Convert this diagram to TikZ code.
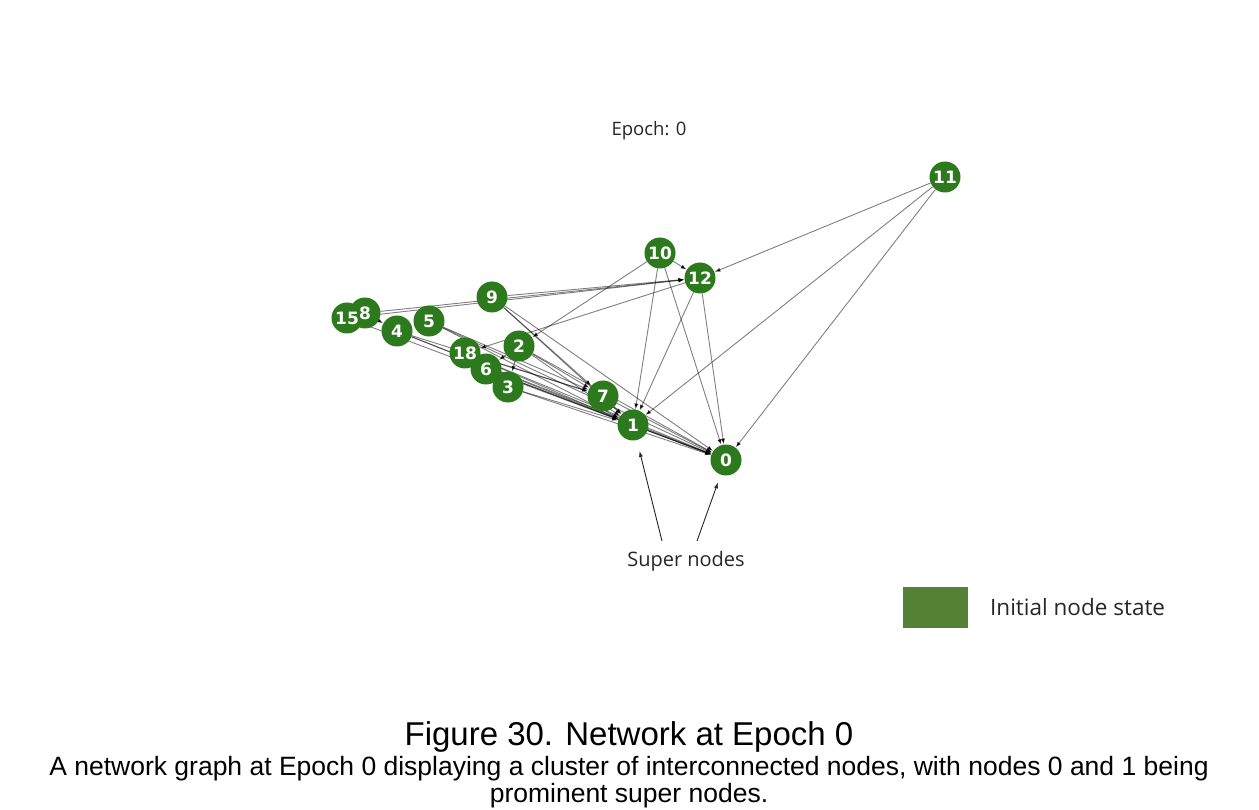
\documentclass[tikz,border=0pt]{standalone}
\usepackage{fontspec}
\setmainfont{Liberation Sans}
\newfontfamily\labelfont{Open Sans}
\newfontfamily\numfont{DejaVu Sans}
\usetikzlibrary{arrows.meta,backgrounds}
\definecolor{nodegreen}{RGB}{45,122,30}
\definecolor{legendgreen}{RGB}{84,130,53}
\tikzset{
  gnode/.style={circle,fill=nodegreen,minimum size=31pt,inner sep=0pt},
  glabel/.style={text=white,font=\numfont\bfseries\fontsize{17}{17}\selectfont,inner sep=0pt},
  gedge/.style={draw=black,line width=0.9pt,draw opacity=0.5,
    -{Latex[length=6pt,width=4.5pt]}},
  callout/.style={draw=black!85,line width=0.9pt,-{Latex[length=6pt,width=4pt]}},
  note/.style={font=\labelfont\fontsize{20}{22}\selectfont,text=black!85,inner sep=0pt},
  caption/.style={font=\fontsize{26.5}{27}\selectfont,align=center,inner sep=0pt}
}
\begin{document}
\begin{tikzpicture}[x=1pt,y=-1pt]
\useasboundingbox (0,0) rectangle (1259,810);

% graph nodes
\foreach \n/\px/\py in {0/726/460, 1/633/425, 7/603/396, 12/700/278, 10/660/253,
    11/945/177, 9/492/297, 15/347/318, 8/365/313, 4/397/331, 5/429/321,
    18/465/353, 2/519/346, 6/486/369, 3/508/387}
  \node[gnode] (n\n) at (\px,\py) {};

% directed edges
\begin{scope}[on background layer]
  \foreach \a/\b in {11/12, 11/1, 11/0,
      10/12, 10/1, 10/0, 10/2,
      12/1, 12/0, 12/18,
      9/12, 15/12, 8/12,
      9/7, 9/1, 9/0,
      8/4, 4/7, 4/1, 4/0, 15/0,
      5/7, 5/1, 5/0,
      18/1, 18/0, 18/7,
      2/6, 2/3, 2/7, 2/1, 2/0,
      6/1, 6/0, 3/1, 3/0,
      7/1, 7/0, 1/0}
    \draw[gedge] (n\a) -- (n\b);
\end{scope}

% node labels, drawn above every circle
\foreach \n in {0,1,7,12,10,11,9,15,8,4,5,18,2,6,3}
  \node[glabel] at (n\n) {\n};

% title
\node[note,font=\labelfont\fontsize{18.5}{20}\selectfont] (title) at (649,131) {Epoch: 0};

% super node callout
\node[note] (super) at (686,561) {Super nodes};
\coordinate (s1) at (662,541);
\coordinate (s2) at (697,541);
\draw[callout,shorten >=11pt] (s1) -- (n1);
\draw[callout,shorten >=8pt] (s2) -- (n0);

% legend
\node[fill=legendgreen,minimum width=65pt,minimum height=41pt,inner sep=0pt] (key) at (935.5,607.5) {};
\node[note,anchor=west,font=\labelfont\fontsize{22.5}{24}\selectfont] (keytext) at (990,607) {Initial node state};

% caption
\node[caption,font=\fontsize{33}{34}\selectfont] (cap1) at (629,737) {Figure 30. Network at Epoch 0};
\node[caption] (cap2) at (629,769) {A network graph at Epoch 0 displaying a cluster of interconnected nodes, with nodes 0 and 1 being};
\node[caption] (cap3) at (629,796) {prominent super nodes.};
\end{tikzpicture}
\end{document}
